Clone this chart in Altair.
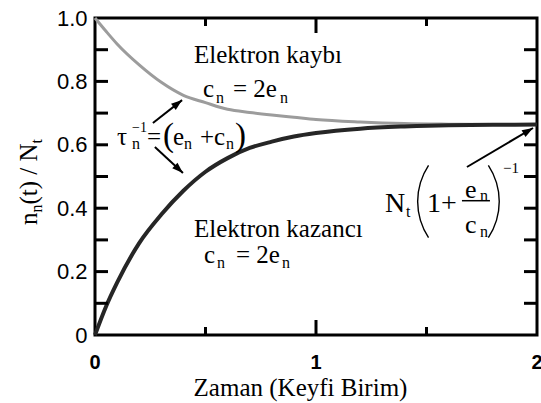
import math
import altair as alt
import pandas as pd

# ---- curve samples: normalised occupancy n_n(t)/N_t vs time ----
time = [0, 0.05, 0.1, 0.2, 0.3, 0.4, 0.5, 0.6, 0.7, 0.8, 0.9, 1.0, 1.2, 1.4, 1.6, 1.8, 2.0]
n_loss = [1.0, 0.958, 0.918, 0.852, 0.797, 0.756, 0.733, 0.712, 0.702, 0.694, 0.687, 0.680,
          0.672, 0.667, 0.665, 0.664, 0.664]
n_gain = [0.0, 0.09, 0.165, 0.29, 0.38, 0.455, 0.515, 0.558, 0.59, 0.61, 0.626, 0.637,
          0.651, 0.658, 0.662, 0.663, 0.664]

# ---- axis ticks ----
x_label_values = [0, 1, 2]
x_major_inner = [1]
x_minor = [0.5, 1.5]
y_label_values = [0, 0.2, 0.4, 0.6, 0.8, 1.0]
y_tick_values = [0.1, 0.2, 0.3, 0.4, 0.5, 0.6, 0.7, 0.8, 0.9]

W, H = 442, 317
XS = alt.Scale(domain=[0, 2], nice=False, zero=False)
YS = alt.Scale(domain=[0, 1], nice=False, zero=False)
SERIF = "Liberation Serif"
SANS = "Liberation Sans"

curves = pd.DataFrame({"t": time, "loss": n_loss, "gain": n_gain})

x_axis = alt.Axis(values=x_label_values, labels=False, ticks=False, tickSize=0, domain=False,
                  grid=False, title="Zaman (Keyfi Birim)", titleFont=SERIF, titleFontSize=25,
                  titleFontWeight="normal", titleColor="black", titleX=205, titleY=60,
                  titleBaseline="alphabetic", titleAlign="center")
y_axis = alt.Axis(values=y_label_values,
                  labelExpr="datum.value == 0 ? '0' : format(datum.value, '.1f')",
                  labelFont=SANS, labelFontSize=22, labelColor="black", ticks=False, tickSize=0,
                  domain=False, grid=False, labelPadding=8, labelFlush=False,
                  labelOverlap=False, title="")

loss_line = alt.Chart(curves).mark_line(color="#9c9c9c", strokeWidth=3, interpolate="monotone").encode(
    x=alt.X("t:Q", scale=XS, axis=x_axis),
    y=alt.Y("loss:Q", scale=YS, axis=y_axis),
)
gain_line = alt.Chart(curves).mark_line(color="#262626", strokeWidth=4, interpolate="monotone").encode(
    x=alt.X("t:Q", scale=XS),
    y=alt.Y("gain:Q", scale=YS),
)

# bold tick labels under the time axis
x_tick_labels = alt.Chart(pd.DataFrame({"v": x_label_values})).mark_text(
    font=SANS, fontSize=20, fontWeight="bold", color="black", baseline="alphabetic",
    align="center").encode(
    x=alt.X("v:Q", scale=XS), y=alt.value(H + 34), text=alt.Text("v:Q", format="d"))

# ---- inward ticks on all four sides ----
yt = pd.DataFrame({"v": y_tick_values})
y_left = alt.Chart(yt).mark_rule(color="black", strokeWidth=3).encode(
    y=alt.Y("v:Q", scale=YS), x=alt.value(0), x2=alt.value(13))
y_right = alt.Chart(yt).mark_rule(color="black", strokeWidth=3).encode(
    y=alt.Y("v:Q", scale=YS), x=alt.value(W - 13), x2=alt.value(W))


def x_ticks(values, length):
    df = pd.DataFrame({"v": values})
    bottom = alt.Chart(df).mark_rule(color="black", strokeWidth=3).encode(
        x=alt.X("v:Q", scale=XS), y=alt.value(H - length), y2=alt.value(H))
    top = alt.Chart(df).mark_rule(color="black", strokeWidth=3).encode(
        x=alt.X("v:Q", scale=XS), y=alt.value(0), y2=alt.value(length))
    return [bottom, top]


# ---- text annotations: pieces laid out with pixel offsets from an anchor ----
def piece(anchor, dx, dy, text, size, angle=0):
    ax, ay = anchor
    return {"x": ax + dx * 2 / W, "y": ay - dy / H, "text": text, "size": size, "angle": angle}


loss_anchor = (0.448, 0.858)
gain_anchor = (0.448, 0.309)
tau_anchor = (0.0995, 0.599)
ss_anchor = (1.312, 0.388)
ytitle_anchor = (-0.262, 0.347)

pieces = [
    piece(loss_anchor, 0, 0, "Elektron kaybı", 25),
    piece(loss_anchor, 9, 34, "c", 25),
    piece(loss_anchor, 22, 40, "n", 16),
    piece(loss_anchor, 39, 34, "= 2e", 25),
    piece(loss_anchor, 86, 40, "n", 16),

    piece(gain_anchor, 0, 0, "Elektron kazancı", 25),
    piece(gain_anchor, 10, 26, "c", 25),
    piece(gain_anchor, 23, 31, "n", 16),
    piece(gain_anchor, 42, 26, "= 2e", 25),
    piece(gain_anchor, 88, 31, "n", 16),

    piece(tau_anchor, 0, 0, "τ", 25),
    piece(tau_anchor, 15, -13, "−1", 14),
    piece(tau_anchor, 15, 4, "n", 16),
    piece(tau_anchor, 30, 0, "=", 25),
    piece(tau_anchor, 46, 1, "(", 33),
    piece(tau_anchor, 56, 0, "e", 25),
    piece(tau_anchor, 67, 4, "n", 16),
    piece(tau_anchor, 83, 0, "+", 25),
    piece(tau_anchor, 97, 0, "c", 25),
    piece(tau_anchor, 109, 4, "n", 16),
    piece(tau_anchor, 118, 1, ")", 33),

    piece(ss_anchor, 0, 0, "N", 28),
    piece(ss_anchor, 21, 5, "t", 16),
    piece(ss_anchor, 42, 0, "1", 28),
    piece(ss_anchor, 56, 0, "+", 28),
    piece(ss_anchor, 80, -14, "e", 26),
    piece(ss_anchor, 95, -11, "n", 16),
    piece(ss_anchor, 80, 21, "c", 26),
    piece(ss_anchor, 95, 25, "n", 16),
    piece(ss_anchor, 118, -39, "−1", 15),

    piece(ytitle_anchor, 0, 0, "n", 25, 270),
    piece(ytitle_anchor, 5, -12.5, "n", 16, 270),
    piece(ytitle_anchor, 0, -20.5, "(t) / N", 25, 270),
    piece(ytitle_anchor, 5, -81.5, "t", 16, 270),
]
labels = alt.Chart(pd.DataFrame(pieces)).mark_text(
    align="left", baseline="alphabetic", font=SERIF, fontWeight="normal", color="black").encode(
    x=alt.X("x:Q", scale=XS),
    y=alt.Y("y:Q", scale=YS),
    text="text:N",
    size=alt.Size("size:Q", scale=None),
    angle=alt.Angle("angle:Q", scale=None),
)

# fraction bar of e_n / c_n
bar = pd.DataFrame([{"x": ss_anchor[0] + 77 * 2 / W, "x2": ss_anchor[0] + 105 * 2 / W,
                     "y": ss_anchor[1] + 11.3 / H}])
frac = alt.Chart(bar).mark_rule(color="black", strokeWidth=1.5).encode(
    x=alt.X("x:Q", scale=XS), x2="x2:Q", y=alt.Y("y:Q", scale=YS))


# tall brackets around (1 + e_n/c_n)
def bracket(dx, th0, th1):
    c = piece(ss_anchor, dx, -10.5, "", 0)
    return alt.Chart(pd.DataFrame([c])).mark_arc(
        radius=66, radius2=64.6, theta=th0, theta2=th1, color="black").encode(
        x=alt.X("x:Q", scale=XS), y=alt.Y("y:Q", scale=YS))


half = math.asin(36.5 / 66)
left_bracket = bracket(98, 1.5 * math.pi - half, 1.5 * math.pi + half)
right_bracket = bracket(49, 0.5 * math.pi - half, 0.5 * math.pi + half)

# ---- arrows ----
arrow_rows = []
for x0, y0, x1, y1 in [(1.683, 0.530, 1.982, 0.653),
                       (0.262, 0.669, 0.394, 0.741),
                       (0.271, 0.593, 0.398, 0.511)]:
    dxp = (x1 - x0) * W / 2
    dyp = -(y1 - y0) * H
    ang = math.degrees(math.atan2(dxp, -dyp)) % 360
    arrow_rows.append({"x0": x0, "y0": y0, "x1": x1, "y1": y1, "ang": ang})
arrows = pd.DataFrame(arrow_rows)
shafts = alt.Chart(arrows).mark_rule(color="black", strokeWidth=2).encode(
    x=alt.X("x0:Q", scale=XS), y=alt.Y("y0:Q", scale=YS),
    x2="x1:Q", y2="y1:Q")
heads = alt.Chart(arrows).mark_point(
    shape="M0,0L0.7,2L-0.7,2Z", filled=True, size=121, color="black", opacity=1).encode(
    x=alt.X("x1:Q", scale=XS), y=alt.Y("y1:Q", scale=YS),
    angle=alt.Angle("ang:Q", scale=None))

chart = alt.layer(
    loss_line, gain_line, y_left, y_right,
    *x_ticks(x_major_inner, 15), *x_ticks(x_minor, 8),
    x_tick_labels, labels, frac, left_bracket, right_bracket, shafts, heads,
).properties(
    width=W, height=H, autosize="none",
    padding={"left": 95, "top": 18, "right": 4, "bottom": 68},
    background="white",
).configure(
    font=SERIF,
).configure_text(
    font=SERIF,
).configure_axis(
    titleFont=SERIF, titleFontWeight="normal",
).configure_view(stroke="black", strokeWidth=3)

chart.save("out.html", embed_options={"renderer": "svg", "actions": False})
